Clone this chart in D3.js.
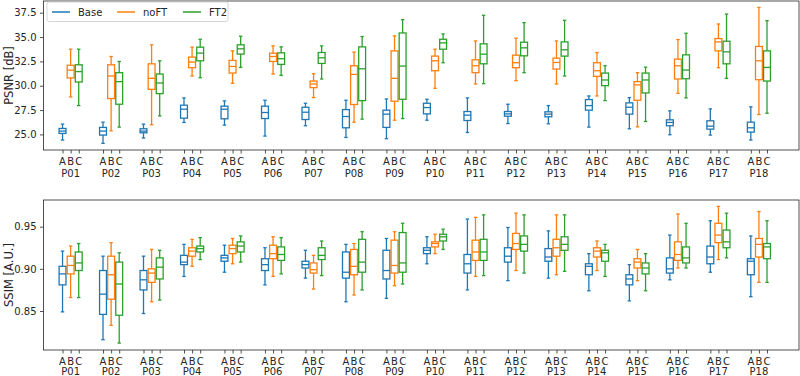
<!DOCTYPE html>
<html>
<head>
<meta charset="utf-8">
<script src="https://cdn.jsdelivr.net/npm/d3@7"></script>
<style>
  body { margin: 0; background: #fff; }
  svg text { font-family: "DejaVu Sans", sans-serif; fill: #262626; }
</style>
</head>
<body>
<div id="graphic"></div>
<script>
// Categories
var participants = ['P01', 'P02', 'P03', 'P04', 'P05', 'P06', 'P07', 'P08', 'P09',
  'P10', 'P11', 'P12', 'P13', 'P14', 'P15', 'P16', 'P17', 'P18'];
var methods = ['Base', 'noFT', 'FT2'];
var letters = ['A', 'B', 'C'];
var psnrTicks = [25.0, 27.5, 30.0, 32.5, 35.0, 37.5];
var ssimTicks = [0.85, 0.90, 0.95];

// Box stats per participant: [whiskerLow, q1, median, q3, whiskerHigh]
var psnrBase = [
  [24.42, 25.10, 25.34, 25.61, 26.06], [24.08, 24.93, 25.34, 25.72, 26.26],
  [24.63, 25.17, 25.34, 25.58, 26.06], [26.23, 26.67, 27.59, 28.00, 28.75],
  [25.95, 26.60, 27.59, 27.90, 28.44], [24.83, 26.63, 27.25, 27.90, 28.51],
  [25.89, 26.53, 27.28, 27.79, 28.20], [24.69, 25.68, 26.84, 27.55, 28.51],
  [24.56, 25.72, 27.08, 27.49, 28.64], [26.46, 27.11, 27.76, 28.20, 28.61],
  [25.20, 26.43, 26.98, 27.35, 28.75], [26.12, 26.87, 27.11, 27.35, 28.10],
  [26.09, 26.81, 27.08, 27.32, 27.96], [25.75, 27.49, 27.96, 28.58, 28.95],
  [25.58, 27.08, 27.79, 28.24, 28.78], [24.97, 25.89, 26.23, 26.50, 27.42],
  [24.93, 25.54, 25.85, 26.40, 27.62], [24.42, 25.24, 25.68, 26.26, 27.83]
];
var psnrNoFT = [
  [28.85, 30.80, 31.60, 32.10, 33.75], [25.37, 28.68, 31.00, 32.15, 33.00],
  [25.99, 29.63, 30.76, 32.25, 34.20], [31.00, 31.85, 32.43, 32.94, 33.96],
  [30.25, 31.30, 31.98, 32.60, 33.58], [31.20, 32.49, 33.00, 33.34, 34.09],
  [28.78, 29.80, 30.18, 30.48, 31.23], [26.26, 28.07, 31.16, 32.05, 33.45],
  [26.46, 28.41, 30.76, 33.58, 35.12], [29.73, 31.54, 32.56, 33.04, 33.75],
  [30.18, 31.34, 32.05, 32.66, 34.60], [30.52, 31.85, 32.36, 33.14, 34.88],
  [30.18, 31.71, 32.39, 32.83, 34.60], [28.95, 30.96, 31.54, 32.36, 33.41],
  [25.78, 28.51, 30.08, 30.42, 31.34], [29.22, 30.69, 32.05, 32.73, 34.74],
  [31.85, 33.58, 34.50, 34.84, 36.34], [27.04, 30.62, 32.56, 34.03, 38.04]
];
var psnrFT2 = [
  [27.96, 30.38, 31.45, 32.15, 33.75], [25.75, 28.10, 30.42, 31.34, 32.49],
  [26.90, 29.19, 30.28, 31.20, 32.56], [30.82, 32.56, 33.35, 33.96, 34.77],
  [31.88, 33.25, 33.79, 34.20, 35.08], [31.06, 32.19, 32.77, 33.38, 33.99],
  [30.69, 32.29, 32.87, 33.41, 34.09], [26.57, 28.47, 31.74, 33.99, 35.05],
  [26.63, 28.61, 32.02, 35.42, 36.78], [32.36, 33.75, 34.40, 34.77, 35.32],
  [30.21, 32.25, 33.24, 34.30, 37.23], [31.34, 33.07, 33.89, 34.47, 36.48],
  [31.00, 33.04, 33.69, 34.50, 36.72], [28.47, 30.01, 30.59, 31.30, 32.05],
  [26.33, 29.26, 30.59, 31.30, 31.91], [28.75, 30.72, 31.61, 33.17, 35.39],
  [30.76, 32.25, 33.48, 34.57, 37.36], [27.18, 30.48, 31.88, 33.58, 36.68]
];
var ssimBase = [
  [0.849, 0.881, 0.894, 0.903, 0.921], [0.816, 0.846, 0.870, 0.898, 0.915],
  [0.847, 0.875, 0.887, 0.898, 0.915], [0.891, 0.905, 0.908, 0.916, 0.929],
  [0.896, 0.909, 0.913, 0.916, 0.928], [0.881, 0.898, 0.905, 0.912, 0.925],
  [0.889, 0.901, 0.905, 0.909, 0.922], [0.861, 0.889, 0.896, 0.920, 0.929],
  [0.865, 0.888, 0.898, 0.922, 0.936], [0.906, 0.918, 0.922, 0.925, 0.938],
  [0.875, 0.895, 0.906, 0.917, 0.959], [0.886, 0.908, 0.915, 0.925, 0.949],
  [0.889, 0.909, 0.914, 0.924, 0.945], [0.874, 0.893, 0.903, 0.906, 0.918],
  [0.862, 0.881, 0.888, 0.893, 0.905], [0.887, 0.895, 0.900, 0.913, 0.940],
  [0.896, 0.906, 0.914, 0.927, 0.957], [0.867, 0.893, 0.909, 0.912, 0.939]
];
var ssimNoFT = [
  [0.866, 0.894, 0.904, 0.915, 0.927], [0.833, 0.864, 0.893, 0.915, 0.931],
  [0.861, 0.884, 0.895, 0.900, 0.923], [0.903, 0.915, 0.921, 0.925, 0.935],
  [0.906, 0.918, 0.924, 0.928, 0.936], [0.891, 0.912, 0.918, 0.928, 0.938],
  [0.876, 0.895, 0.899, 0.907, 0.916], [0.869, 0.893, 0.903, 0.923, 0.930],
  [0.880, 0.895, 0.904, 0.934, 0.944], [0.918, 0.926, 0.930, 0.932, 0.941],
  [0.891, 0.910, 0.920, 0.934, 0.961], [0.898, 0.923, 0.930, 0.942, 0.966],
  [0.893, 0.915, 0.925, 0.935, 0.964], [0.898, 0.914, 0.921, 0.925, 0.933],
  [0.886, 0.901, 0.908, 0.912, 0.923], [0.901, 0.910, 0.917, 0.932, 0.965],
  [0.911, 0.931, 0.940, 0.954, 0.974], [0.884, 0.914, 0.929, 0.936, 0.968]
];
var ssimFT2 = [
  [0.866, 0.898, 0.907, 0.920, 0.930], [0.812, 0.845, 0.882, 0.908, 0.919],
  [0.863, 0.888, 0.902, 0.913, 0.922], [0.911, 0.920, 0.924, 0.927, 0.937],
  [0.908, 0.920, 0.927, 0.932, 0.939], [0.894, 0.910, 0.917, 0.926, 0.937],
  [0.892, 0.911, 0.916, 0.925, 0.933], [0.875, 0.896, 0.908, 0.935, 0.944],
  [0.882, 0.896, 0.907, 0.943, 0.954], [0.923, 0.933, 0.938, 0.941, 0.947],
  [0.892, 0.910, 0.920, 0.935, 0.964], [0.895, 0.921, 0.929, 0.939, 0.964],
  [0.897, 0.922, 0.929, 0.938, 0.964], [0.891, 0.909, 0.919, 0.922, 0.929],
  [0.874, 0.894, 0.901, 0.907, 0.918], [0.901, 0.907, 0.913, 0.926, 0.954],
  [0.913, 0.925, 0.932, 0.946, 0.966], [0.884, 0.912, 0.926, 0.930, 0.957]
];

var COLORS = ['#1f77b4', '#ff7f0e', '#2ca02c'];
var WIDTH = 800;
var HEIGHT = 376;

/*
 * Render the graphic.
 */
var render = function () {
  var svg = d3.select('#graphic')
    .append('svg')
    .attr('width', WIDTH)
    .attr('height', HEIGHT);

  // shared x scale: position = participant * 5 + method
  var xScale = d3.scaleLinear()
    .domain([-2.35, 90.95])
    .range([43.5, 799]);

  renderPanel(svg, {
    top: 1, bottom: 150,
    domain: [23.4, 38.7],
    ticks: psnrTicks,
    format: d3.format('.1f'),
    label: 'PSNR [dB]',
    series: [psnrBase, psnrNoFT, psnrFT2],
    x: xScale,
    partOffset: 26.5,
    legend: true
  });

  renderPanel(svg, {
    top: 200, bottom: 350,
    domain: [0.8038, 0.9816],
    ticks: ssimTicks,
    format: d3.format('.2f'),
    label: 'SSIM [A.U.]',
    series: [ssimBase, ssimNoFT, ssimFT2],
    x: xScale,
    partOffset: 24.5,
    legend: false
  });
};

/*
 * One subplot of box plots.
 */
var renderPanel = function (svg, config) {
  var x = config.x;
  var y = d3.scaleLinear()
    .domain(config.domain)
    .range([config.bottom, config.top]);

  var g = svg.append('g');
  var left = x.range()[0];
  var right = x.range()[1];

  // y axis
  var yAxis = d3.axisLeft(y)
    .tickValues(config.ticks)
    .tickFormat(config.format)
    .tickSizeOuter(0)
    .tickSize(3.5)
    .tickPadding(3.5);
  var yg = g.append('g')
    .attr('transform', 'translate(' + left + ',0)')
    .call(yAxis);
  yg.select('.domain').remove();
  yg.selectAll('line').attr('stroke', '#262626').attr('stroke-width', 0.8);
  yg.selectAll('text')
    .style('font-family', '"DejaVu Sans", sans-serif')
    .style('font-size', '10px')
    .attr('fill', '#262626');

  // x axis: one tick per box
  var positions = [];
  participants.forEach(function (p, i) {
    letters.forEach(function (l, j) {
      positions.push({ pos: i * 5 + j, letter: l, participant: p, j: j });
    });
  });

  var xAxis = d3.axisBottom(x)
    .tickValues(positions.map(function (d) { return d.pos; }))
    .tickFormat('')
    .tickSizeOuter(0)
    .tickSize(3.5);
  var xg = g.append('g')
    .attr('transform', 'translate(0,' + config.bottom + ')')
    .call(xAxis);
  xg.select('.domain').remove();
  xg.selectAll('line').attr('stroke', '#262626').attr('stroke-width', 0.8);

  var labels = g.append('g');
  labels.selectAll('text.letter')
    .data(positions)
    .enter().append('text')
    .attr('class', 'letter')
    .attr('x', function (d) { return x(d.pos); })
    .attr('y', config.bottom + 14.5)
    .attr('text-anchor', 'middle')
    .style('font-size', '10px')
    .text(function (d) { return d.letter; });
  labels.selectAll('text.part')
    .data(positions.filter(function (d) { return d.j === 1; }))
    .enter().append('text')
    .attr('class', 'part')
    .attr('x', function (d) { return x(d.pos); })
    .attr('y', config.bottom + config.partOffset)
    .attr('text-anchor', 'middle')
    .style('font-size', '10px')
    .text(function (d) { return d.participant; });

  // y label
  g.append('text')
    .attr('transform', 'translate(13,' + ((config.top + config.bottom) / 2) + ') rotate(-90)')
    .attr('text-anchor', 'middle')
    .style('font-size', '11.5px')
    .text(config.label);

  // boxes
  var boxW = x(0.85) - x(0);
  var capW = boxW / 2;
  config.series.forEach(function (data, j) {
    var color = COLORS[j];
    var boxes = g.append('g').selectAll('g')
      .data(data)
      .enter().append('g')
      .attr('stroke', color)
      .attr('stroke-width', 1.3)
      .attr('fill', 'none');

    var cx = function (d, i) { return x(i * 5 + j); };

    // whiskers
    boxes.append('line')
      .attr('x1', cx).attr('x2', cx)
      .attr('y1', function (d) { return y(d[0]); })
      .attr('y2', function (d) { return y(d[1]); });
    boxes.append('line')
      .attr('x1', cx).attr('x2', cx)
      .attr('y1', function (d) { return y(d[3]); })
      .attr('y2', function (d) { return y(d[4]); });
    // caps
    boxes.append('line')
      .attr('x1', function (d, i) { return cx(d, i) - capW / 2; })
      .attr('x2', function (d, i) { return cx(d, i) + capW / 2; })
      .attr('y1', function (d) { return y(d[0]); })
      .attr('y2', function (d) { return y(d[0]); });
    boxes.append('line')
      .attr('x1', function (d, i) { return cx(d, i) - capW / 2; })
      .attr('x2', function (d, i) { return cx(d, i) + capW / 2; })
      .attr('y1', function (d) { return y(d[4]); })
      .attr('y2', function (d) { return y(d[4]); });
    // box
    boxes.append('rect')
      .attr('x', function (d, i) { return cx(d, i) - boxW / 2; })
      .attr('width', boxW)
      .attr('y', function (d) { return y(d[3]); })
      .attr('height', function (d) { return y(d[1]) - y(d[3]); });
    // median
    boxes.append('line')
      .attr('x1', function (d, i) { return cx(d, i) - boxW / 2; })
      .attr('x2', function (d, i) { return cx(d, i) + boxW / 2; })
      .attr('y1', function (d) { return y(d[2]); })
      .attr('y2', function (d) { return y(d[2]); });
  });

  // frame
  g.append('rect')
    .attr('x', left)
    .attr('y', config.top)
    .attr('width', right - left)
    .attr('height', config.bottom - config.top)
    .attr('fill', 'none')
    .attr('stroke', '#262626')
    .attr('stroke-width', 0.8);

  if (config.legend) {
    var lg = g.append('g').attr('transform', 'translate(47,2)');
    lg.append('rect')
      .attr('width', 181)
      .attr('height', 19.5)
      .attr('rx', 2)
      .attr('fill', 'rgba(255,255,255,0.8)')
      .attr('stroke', '#cccccc')
      .attr('stroke-width', 0.8);
    var items = lg.selectAll('g.item')
      .data(methods)
      .enter().append('g')
      .attr('class', 'item')
      .attr('transform', function (d, i) { return 'translate(' + [5, 70, 136][i] + ',10)'; });
    items.append('line')
      .attr('x1', 0).attr('x2', 18)
      .attr('stroke', function (d, i) { return COLORS[i]; })
      .attr('stroke-width', 1.5);
    items.append('text')
      .attr('x', 26)
      .attr('dy', '0.35em')
      .style('font-size', '10px')
      .text(function (d) { return d; });
  }
};

window.onload = render;
</script>
</body>
</html>
